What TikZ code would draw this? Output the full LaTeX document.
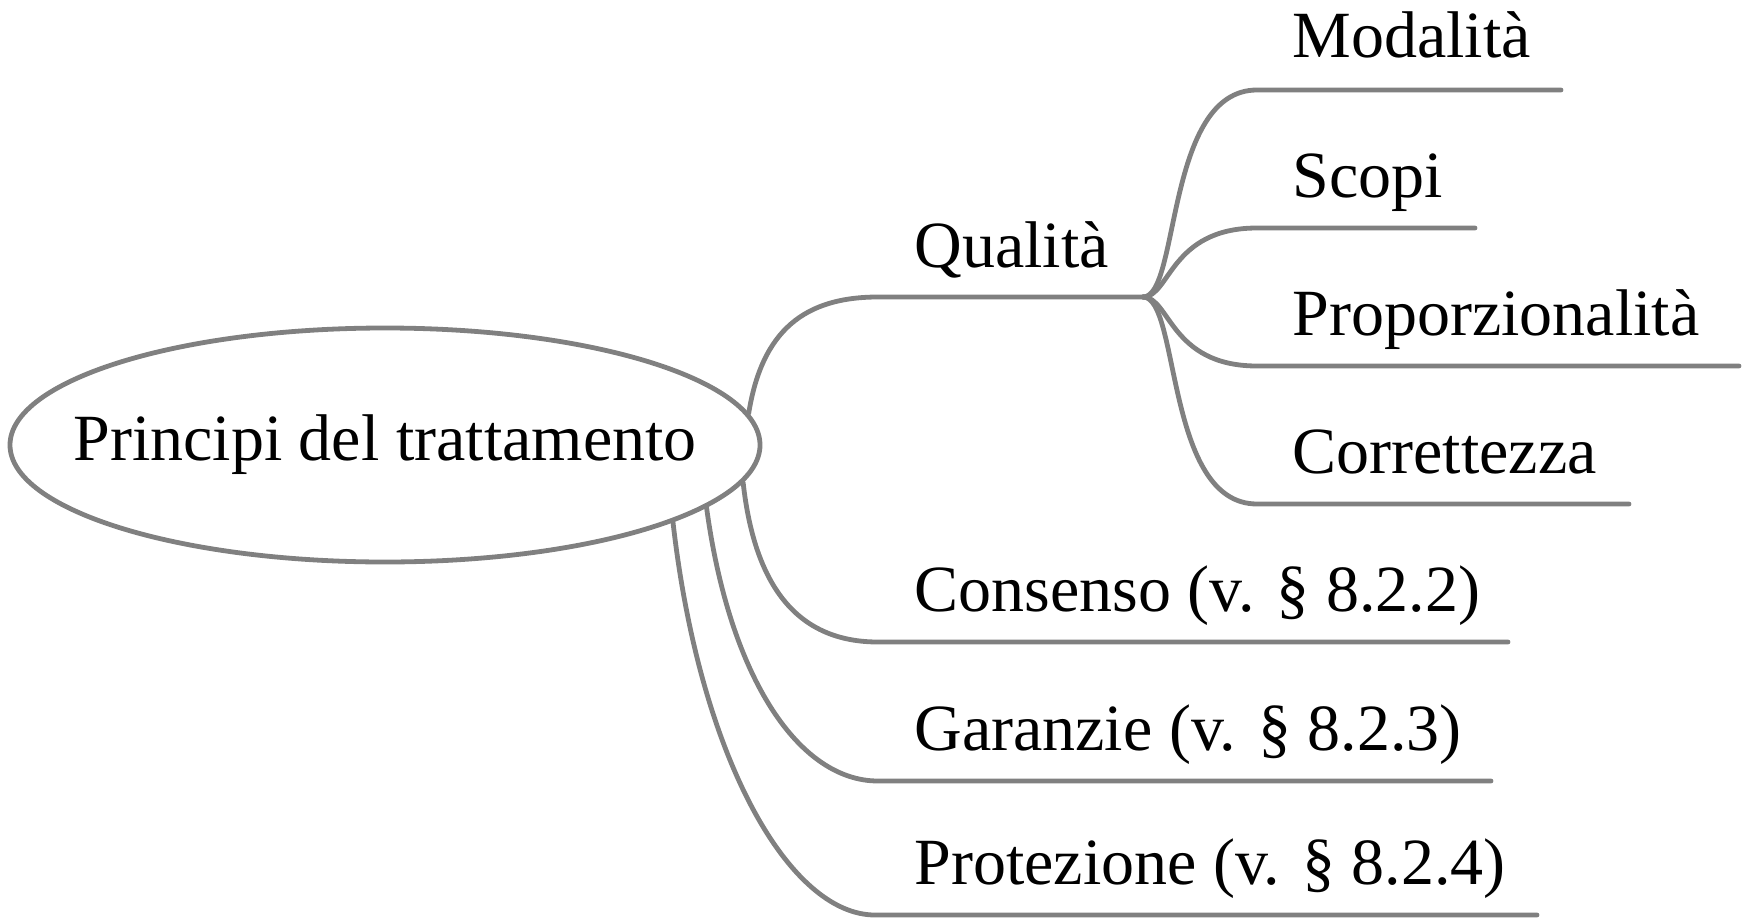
\documentclass[tikz,border=0pt]{standalone}
\usepackage{fontspec}
\setmainfont{Liberation Serif}
\usetikzlibrary{shapes.geometric}
\begin{document}
\begin{tikzpicture}[x=0.5pt,y=-0.5pt, line join=round, line cap=round,
  font=\fontsize{33}{40}\selectfont,
  branch/.style={draw=black!50, line width=2.4pt},
  lbl/.style={anchor=base west, inner sep=0pt}]
  \useasboundingbox (0,0) rectangle (1743,920);
  % root
  \node[ellipse, draw=black!50, line width=2.4pt, minimum width=375pt, minimum height=117pt, inner sep=0pt,
    label={[name=rootlbl]center:Principi del trattamento}] (root) at (385,445) {};
  % first level
  \node[lbl] (qual) at (914,267) {Qualità};
  \node[lbl] (cons) at (914,611) {Consenso (v. § 8.2.2)};
  \node[lbl] (gara) at (914,750) {Garanzie (v. § 8.2.3)};
  \node[lbl] (prot) at (914,884) {Protezione (v. § 8.2.4)};
  \coordinate (qualL) at (878,297); \coordinate (qualR) at (1143,297);
  \coordinate (consL) at (878,642); \coordinate (consR) at (1508,642);
  \coordinate (garaL) at (878,781); \coordinate (garaR) at (1491,781);
  \coordinate (protL) at (875,915); \coordinate (protR) at (1537,915);
  % second level
  \node[lbl] (moda) at (1292,58) {Modalità};
  \node[lbl] (scop) at (1292,197) {Scopi};
  \node[lbl] (prop) at (1292,335) {Proporzionalità};
  \node[lbl] (corr) at (1292,473) {Correttezza};
  \coordinate (modaL) at (1257,90);  \coordinate (modaR) at (1561,90);
  \coordinate (scopL) at (1257,228); \coordinate (scopR) at (1475,228);
  \coordinate (propL) at (1257,366); \coordinate (propR) at (1739,366);
  \coordinate (corrL) at (1257,504); \coordinate (corrR) at (1629,504);
  % branches
  \draw[branch] (root.5) .. controls (762,330) and (805,297) .. (qualL) -- (qualR);
  \draw[branch] (root.-6.5) .. controls (755,590) and (800,642) .. (consL) -- (consR);
  \draw[branch] (root.-11.3) .. controls (730,680) and (800,781) .. (garaL) -- (garaR);
  \draw[branch] (root.-15.6) .. controls (700,760) and (790,915) .. (protL) -- (protR);
  \draw[branch] (qualR) .. controls (1180,297) and (1165,90) .. (modaL) -- (modaR);
  \draw[branch] (qualR) .. controls (1170,297) and (1170,228) .. (scopL) -- (scopR);
  \draw[branch] (qualR) .. controls (1170,297) and (1170,366) .. (propL) -- (propR);
  \draw[branch] (qualR) .. controls (1180,297) and (1165,504) .. (corrL) -- (corrR);
\end{tikzpicture}
\end{document}
